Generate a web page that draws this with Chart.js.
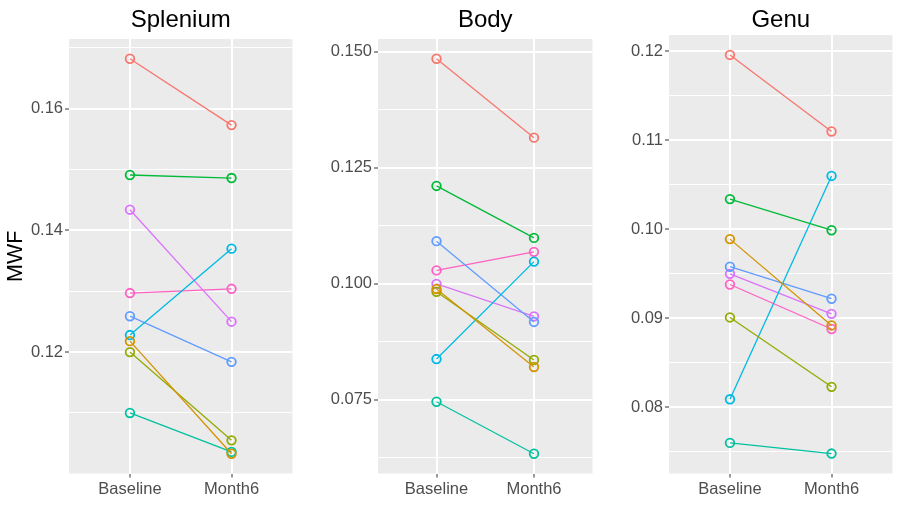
<!DOCTYPE html>
<html><head><meta charset="utf-8">
<script src="https://cdn.jsdelivr.net/npm/chart.js@4"></script>
<style>
html,body{margin:0;padding:0;background:#fff;}
#wrap{position:relative;width:900px;height:523px;overflow:hidden;}
canvas{position:absolute;top:0;}
</style></head>
<body><div id="wrap">
<canvas id="c0" width="300" height="523" style="left:0px"></canvas>
<canvas id="c1" width="300" height="523" style="left:300px"></canvas>
<canvas id="c2" width="300" height="523" style="left:600px"></canvas>
</div>
<script>
// ---- data ----
const timepoints = ['Baseline', 'Month6'];
const subjectColors = ['#F8766D','#D39200','#93AA00','#00BA38','#00C19F','#00B9E3','#619CFF','#DB72FB','#FF61C3'];
const regionNames = ['Splenium', 'Body', 'Genu'];

const spleniumBaseline = [0.1682, 0.1218, 0.1200, 0.1491, 0.1100, 0.1228, 0.1259, 0.1434, 0.1297];
const spleniumMonth6   = [0.1573, 0.1033, 0.1055, 0.1486, 0.1036, 0.1370, 0.1184, 0.1250, 0.1304];

const bodyBaseline = [0.1485, 0.0989, 0.0983, 0.1211, 0.0746, 0.0838, 0.1092, 0.1000, 0.1029];
const bodyMonth6   = [0.1315, 0.0821, 0.0836, 0.1099, 0.0634, 0.1048, 0.0918, 0.0930, 0.1069];

const genuBaseline = [0.1196, 0.0989, 0.0901, 0.1034, 0.0760, 0.0809, 0.0958, 0.0950, 0.0938];
const genuMonth6   = [0.1110, 0.0892, 0.0823, 0.0999, 0.0748, 0.1060, 0.0922, 0.0905, 0.0888];

const spleniumTicks = [0.12, 0.14, 0.16];
const spleniumTickLabels = ['0.12', '0.14', '0.16'];
const spleniumMinor = [0.11, 0.13, 0.15, 0.17];

const bodyTicks = [0.075, 0.100, 0.125, 0.150];
const bodyTickLabels = ['0.075', '0.100', '0.125', '0.150'];
const bodyMinor = [0.0625, 0.0875, 0.1125, 0.1375];

const genuTicks = [0.08, 0.09, 0.10, 0.11, 0.12];
const genuTickLabels = ['0.08', '0.09', '0.10', '0.11', '0.12'];
const genuMinor = [0.075, 0.085, 0.095, 0.105, 0.115];

const yAxisTitle = 'MWF';

// ---- build ----
const panels = [
  {name: regionNames[0], base: spleniumBaseline, m6: spleniumMonth6, ticks: spleniumTicks, labels: spleniumTickLabels, minor: spleniumMinor, left: 69, titleBottom: 4.7, ytitle: true},
  {name: regionNames[1], base: bodyBaseline, m6: bodyMonth6, ticks: bodyTicks, labels: bodyTickLabels, minor: bodyMinor, left: 78, titleBottom: 4.7, ytitle: false},
  {name: regionNames[2], base: genuBaseline, m6: genuMonth6, ticks: genuTicks, labels: genuTickLabels, minor: genuMinor, left: 69, titleBottom: 0.7, ytitle: false}
];

const FONT = 'Liberation Sans, Arial, Helvetica, sans-serif';

const bgPlugin = {
  id: 'panelBg',
  beforeDraw(chart) {
    const {ctx, chartArea: a} = chart;
    ctx.save();
    ctx.fillStyle = '#EBEBEB';
    ctx.fillRect(a.left, a.top, a.right - a.left, a.bottom - a.top);
    ctx.restore();
  }
};

panels.forEach((p, idx) => {
  const all = p.base.concat(p.m6);
  const lo = Math.min(...all), hi = Math.max(...all);
  const pad = (hi - lo) * 0.05;
  const yTickVals = p.ticks.map(v => ({v, major: true})).concat(p.minor.map(v => ({v, major: false})))
    .filter(t => t.v >= lo - pad && t.v <= hi + pad)
    .sort((a, b) => a.v - b.v);
  const isMajor = (val) => p.ticks.some(t => Math.abs(t - val) < 1e-9);
  const labelFor = (val) => {
    const i = p.ticks.findIndex(t => Math.abs(t - val) < 1e-9);
    return i >= 0 ? p.labels[i] : '';
  };

  const datasets = p.base.map((b, i) => ({
    data: [{x: 1, y: b}, {x: 2, y: p.m6[i]}],
    borderColor: subjectColors[i],
    backgroundColor: 'rgba(0,0,0,0)',
    borderWidth: 1.3,
    pointRadius: 4.3,
    pointBorderWidth: 1.8,
    pointBackgroundColor: 'rgba(0,0,0,0)',
    pointBorderColor: subjectColors[i],
    showLine: true,
    tension: 0
  }));

  new Chart(document.getElementById('c' + idx), {
    type: 'scatter',
    data: {datasets},
    plugins: [bgPlugin],
    options: {
      responsive: false,
      animation: false,
      devicePixelRatio: 1,
      layout: {padding: {left: 0, right: 7.5, top: 0, bottom: 0}},
      plugins: {
        legend: {display: false},
        tooltip: {enabled: false},
        title: {
          display: true,
          text: p.name,
          fullSize: false,
          color: '#000000',
          font: {family: FONT, size: 24, weight: 'normal'},
          padding: {top: 5.5, bottom: p.titleBottom}
        }
      },
      scales: {
        x: {
          type: 'linear',
          min: 0.4, max: 2.6,
          afterBuildTicks: (s) => { s.ticks = [{value: 1}, {value: 2}]; },
          afterFit: (s) => { s.height = 49.5; },
          ticks: {
            callback: (v) => timepoints[Math.round(v) - 1] || '',
            color: '#4D4D4D',
            font: {family: FONT, size: 16.5},
            padding: 2,
            maxRotation: 0, autoSkip: false
          },
          grid: {color: '#FFFFFF', lineWidth: 2, tickLength: 4, tickColor: '#333333', tickWidth: 1},
          border: {display: false}
        },
        y: {
          type: 'linear',
          min: lo - pad, max: hi + pad,
          afterBuildTicks: (s) => { s.ticks = yTickVals.map(t => ({value: t.v})); },
          afterFit: (s) => { s.width = p.left; },
          ticks: {
            callback: (v) => labelFor(v),
            color: '#4D4D4D',
            font: {family: FONT, size: 16.5},
            padding: 2,
            autoSkip: false
          },
          grid: {
            color: '#FFFFFF',
            lineWidth: (c) => (c.tick && isMajor(c.tick.value)) ? 2 : 1,
            tickLength: 4,
            tickColor: (c) => (c.tick && isMajor(c.tick.value)) ? '#333333' : 'rgba(0,0,0,0)',
            tickWidth: 1
          },
          border: {display: false},
          title: {
            display: p.ytitle,
            text: yAxisTitle,
            color: '#000000',
            font: {family: FONT, size: 21.5},
            padding: {top: 3, bottom: 0}
          }
        }
      }
    }
  });
});
</script>
</body></html>
